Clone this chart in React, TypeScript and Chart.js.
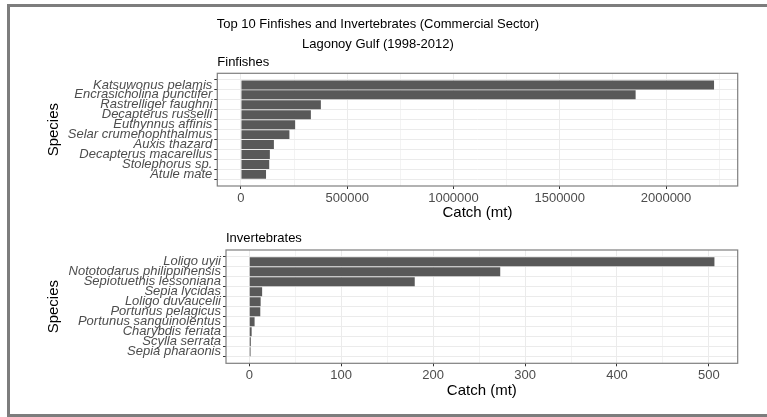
import React, { useEffect, useRef } from "react";
import { Chart, registerables } from "chart.js";

Chart.register(...registerables);

// ---------- data ----------
const mainTitle = [
  "Top 10 Finfishes and Invertebrates (Commercial Sector)",
  "Lagonoy Gulf (1998-2012)",
];
const xAxisTitle = "Catch (mt)";
const yAxisTitle = "Species";

const finTitle = "Finfishes";
const finSpecies = [
  "Katsuwonus pelamis",
  "Encrasicholina punctifer",
  "Rastrelliger faughni",
  "Decapterus russelli",
  "Euthynnus affinis",
  "Selar crumenophthalmus",
  "Auxis thazard",
  "Decapterus macarellus",
  "Stolephorus sp.",
  "Atule mate",
];
const finCatch = [2226000, 1857000, 376000, 329000, 255000, 228000, 155000, 136000, 133000, 118000];
const finMajorTicks = [0, 500000, 1000000, 1500000, 2000000];
const finMinorTicks = [250000, 750000, 1250000, 1750000, 2250000];

const invTitle = "Invertebrates";
const invSpecies = [
  "Loligo uyii",
  "Nototodarus philippinensis",
  "Sepiotuethis lessoniana",
  "Sepia lycidas",
  "Loligo duvaucelii",
  "Portunus pelagicus",
  "Portunus sanguinolentus",
  "Charybdis feriata",
  "Scylla serrata",
  "Sepia pharaonis",
];
const invCatch = [506, 273, 180, 14, 12.4, 12, 5.8, 2.6, 1.7, 1.4];
const invMajorTicks = [0, 100, 200, 300, 400, 500];
const invMinorTicks = [50, 150, 250, 350, 450];

// ---------- styling ----------
const FONT = "'Liberation Sans', Arial, Helvetica, sans-serif";
const BAR = "#595959";
const GRID = "#ebebeb";
const TICK_TEXT = "#4d4d4d";
const TICK_MARK = "#333333";
const PANEL_BORDER = "#7f7f7f";

const panelBorderPlugin = {
  id: "panelBorder",
  afterDatasetsDraw(chart: any) {
    const { ctx, chartArea } = chart;
    ctx.save();
    ctx.strokeStyle = PANEL_BORDER;
    ctx.lineWidth = 1.2;
    ctx.strokeRect(chartArea.left, chartArea.top, chartArea.right - chartArea.left, chartArea.bottom - chartArea.top);
    ctx.restore();
  },
};

type PanelCfg = {
  species: string[];
  values: number[];
  majors: number[];
  minors: number[];
  panelTitle: string;
  withMainTitle: boolean;
  yWidth: number;
  xHeight: number;
  padTop: number;
  subPad: { top: number; bottom: number };
};

function buildConfig(p: PanelCfg): any {
  const vmax = Math.max(...p.values);
  const n = p.species.length;
  const allTicks = [...p.majors, ...p.minors].sort((a, b) => a - b);
  const isMajor = (v: number) => p.majors.includes(v);
  return {
    type: "bar",
    data: {
      datasets: [
        {
          data: p.values.map((v, i) => ({ x: v, y: i })),
          backgroundColor: BAR,
          borderWidth: 0,
          barPercentage: 0.9,
          categoryPercentage: 1,
        },
      ],
    },
    options: {
      indexAxis: "y",
      responsive: false,
      animation: false,
      events: [],
      layout: { padding: { left: 0, right: 29.3, top: p.padTop, bottom: 0 } },
      plugins: {
        legend: { display: false },
        tooltip: { enabled: false },
        title: {
          display: p.withMainTitle,
          text: mainTitle,
          color: "#000000",
          font: { family: FONT, size: 13, weight: "normal", lineHeight: 1.5 },
          padding: { top: 0, bottom: 0 },
          align: "center",
          fullSize: true,
        },
        subtitle: {
          display: true,
          text: p.panelTitle,
          color: "#000000",
          font: { family: FONT, size: 13, weight: "normal", lineHeight: 1.2 },
          padding: p.subPad,
          align: "start",
          fullSize: false,
        },
      },
      scales: {
        x: {
          type: "linear",
          min: -0.05 * vmax,
          max: 1.05 * vmax,
          afterBuildTicks: (scale: any) => {
            scale.ticks = allTicks.map((v) => ({ value: v }));
          },
          afterFit: (scale: any) => {
            scale.height = p.xHeight;
          },
          border: { display: false },
          grid: {
            color: GRID,
            lineWidth: (ctx: any) => (ctx.tick && isMajor(ctx.tick.value) ? 1 : 0.6),
            drawTicks: true,
            tickLength: 3,
            tickWidth: 1,
            tickColor: (ctx: any) => (ctx.tick && isMajor(ctx.tick.value) ? TICK_MARK : "rgba(0,0,0,0)"),
          },
          ticks: {
            autoSkip: false,
            maxRotation: 0,
            padding: 1.5,
            color: TICK_TEXT,
            font: { family: FONT, size: 13 },
            callback: (v: any) => (isMajor(Number(v)) ? String(v) : ""),
          },
          title: {
            display: true,
            text: xAxisTitle,
            color: "#000000",
            font: { family: FONT, size: 15, lineHeight: 1.2 },
            padding: { top: 0, bottom: 6 },
          },
        },
        y: {
          type: "linear",
          reverse: true,
          min: -0.6,
          max: n - 1 + 0.6,
          afterBuildTicks: (scale: any) => {
            scale.ticks = p.species.map((_, i) => ({ value: i }));
          },
          afterFit: (scale: any) => {
            scale.width = p.yWidth;
          },
          border: { display: false },
          grid: {
            color: GRID,
            lineWidth: 1,
            drawTicks: true,
            tickLength: 3,
            tickWidth: 1,
            tickColor: TICK_MARK,
          },
          ticks: {
            autoSkip: false,
            padding: 2,
            color: TICK_TEXT,
            font: { family: FONT, size: 13, style: "italic" },
            callback: (v: any) => p.species[Number(v)] ?? "",
          },
          title: {
            display: true,
            text: yAxisTitle,
            color: "#000000",
            font: { family: FONT, size: 15, lineHeight: 1.2 },
            padding: { top: 27, bottom: 0 },
          },
        },
      },
    },
    plugins: [panelBorderPlugin],
  };
}

function Panel(props: { cfg: PanelCfg; top: number; height: number }) {
  const ref = useRef<HTMLCanvasElement | null>(null);
  useEffect(() => {
    if (!ref.current) return;
    const chart = new Chart(ref.current, buildConfig(props.cfg));
    return () => chart.destroy();
  }, []);
  return (
    <canvas
      ref={ref}
      width={749}
      height={props.height}
      style={{ position: "absolute", left: 18, top: props.top, width: 749, height: props.height }}
    />
  );
}

export default function App() {
  const finCfg: PanelCfg = {
    species: finSpecies,
    values: finCatch,
    majors: finMajorTicks,
    minors: finMinorTicks,
    panelTitle: finTitle,
    withMainTitle: true,
    yWidth: 199.3,
    xHeight: 42,
    padTop: 14.75,
    subPad: { top: 0.45, bottom: 3.5 },
  };
  const invCfg: PanelCfg = {
    species: invSpecies,
    values: invCatch,
    majors: invMajorTicks,
    minors: invMinorTicks,
    panelTitle: invTitle,
    withMainTitle: false,
    yWidth: 208,
    xHeight: 42.7,
    padTop: 0,
    subPad: { top: 4.7, bottom: 3.7 },
  };
  return (
    <div
      style={{
        position: "fixed",
        left: 0,
        top: 0,
        width: 767,
        height: 417,
        overflow: "hidden",
        background: "#ffffff",
      }}
    >
      <div
        style={{
          position: "absolute",
          left: 7,
          top: 4,
          width: 780,
          height: 413,
          boxSizing: "border-box",
          borderTop: "3px solid #7d7d7d",
          borderLeft: "3px solid #7d7d7d",
          borderBottom: "3px solid #7d7d7d",
          borderRight: "none",
        }}
      />
      <Panel cfg={finCfg} top={0} height={228} />
      <Panel cfg={invCfg} top={226} height={180} />
    </div>
  );
}
